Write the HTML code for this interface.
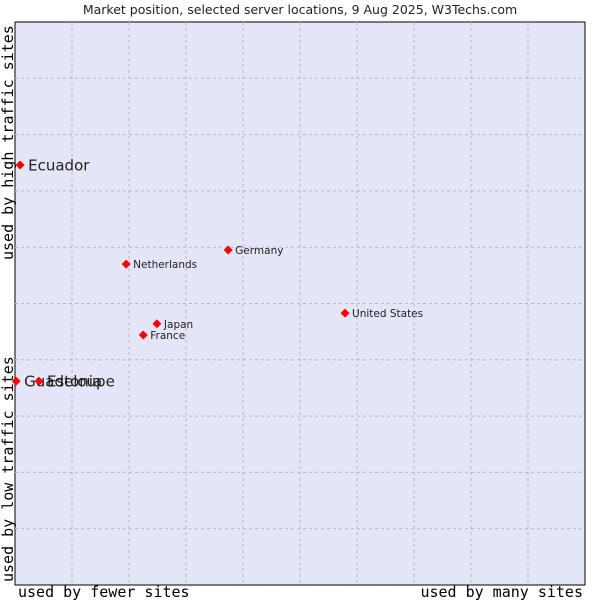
<!DOCTYPE html>
<html><head><meta charset="utf-8"><style>
body{margin:0;background:#fff;width:600px;height:600px;overflow:hidden}
svg{display:block}
</style></head><body>
<svg width="600" height="600" xmlns="http://www.w3.org/2000/svg">
<text x="300" y="14" text-anchor="middle" font-family="DejaVu Sans, sans-serif" font-size="12.5" fill="#222">Market position, selected server locations, 9 Aug 2025, W3Techs.com</text>
<rect x="15" y="22" width="570" height="563" fill="#e4e6f8" stroke="#000" stroke-width="1"/>
<g id="grid"></g>
<text x="18" y="597" font-family="DejaVu Sans Mono, monospace" font-size="15" fill="#000">used by fewer sites</text>
<text x="583" y="597" text-anchor="end" font-family="DejaVu Sans Mono, monospace" font-size="15" fill="#000">used by many sites</text>
<text transform="translate(13,260) rotate(-90)" font-family="DejaVu Sans Mono, monospace" font-size="15" fill="#000">used by high traffic sites</text>
<text transform="translate(13,582) rotate(-90)" font-family="DejaVu Sans Mono, monospace" font-size="15" fill="#000">used by low traffic sites</text>
<g id="points"></g>
</svg>
<script>
const names = ["Ecuador","Guadeloupe","Estonia","Netherlands","Germany","United States","Japan","France"];
const xVals = [0.9,0.2,4.2,19.5,37.4,57.9,24.9,22.5];
const yVals = [74.6,36.2,36.2,57.0,59.5,48.3,46.4,44.4];
const bigLabel = [true,true,true,false,false,false,false,false];
const L=15,T=22,W=570,H=563;
const sx=v=>L+v/100*W, sy=v=>T+H-v/100*H;
const ns="http://www.w3.org/2000/svg";
const grid=document.getElementById('grid');
for(let i=1;i<10;i++){
  const a=document.createElementNS(ns,'line');
  
  
  a.setAttribute('x1',sx(i*10));a.setAttribute('x2',sx(i*10));a.setAttribute('y1',T);a.setAttribute('y2',T+H);
  a.setAttribute('stroke','#b8b8b8');a.setAttribute('stroke-dasharray','3,3');grid.appendChild(a);
  const b=document.createElementNS(ns,'line');
  
  
  b.setAttribute('y1',sy(i*10));b.setAttribute('y2',sy(i*10));b.setAttribute('x1',L);b.setAttribute('x2',L+W);
  b.setAttribute('stroke','#b8b8b8');b.setAttribute('stroke-dasharray','3,3');grid.appendChild(b);
}
const pts=document.getElementById('points');
names.forEach((n,i)=>{
  const x=sx(xVals[i]),y=sy(yVals[i]);
  const d=document.createElementNS(ns,'polygon');
  
  
  d.setAttribute('points',`${x},${y-4.5} ${x+4.5},${y} ${x},${y+4.5} ${x-4.5},${y}`);
  d.setAttribute('fill','#f00');pts.appendChild(d);
  const t=document.createElementNS(ns,'text');
  
  
  t.setAttribute('x',x+(bigLabel[i]?8:7));
  t.setAttribute('y',y+(bigLabel[i]?5.5:4));
  t.setAttribute('font-family','DejaVu Sans, sans-serif');
  t.setAttribute('font-size',bigLabel[i]?'15':'10.5');
  t.setAttribute('fill','#222');
  t.textContent=n;pts.appendChild(t);
});
</script>
</body></html>
